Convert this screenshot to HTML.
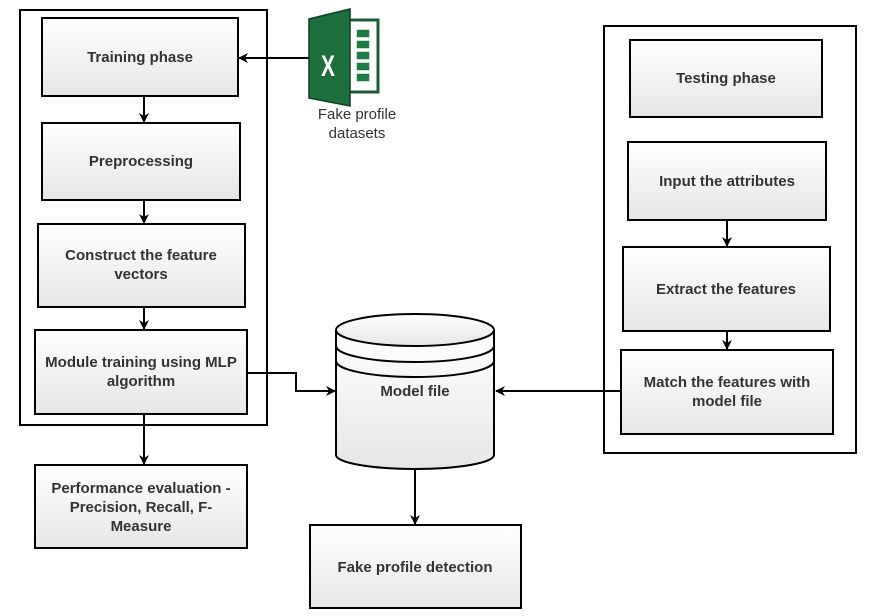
<!DOCTYPE html>
<html><head><style>body{margin:0;background:#fff}svg{display:block}text{font-family:"Liberation Sans",Arial,sans-serif}</style></head><body>
<svg width="895" height="616" viewBox="0 0 895 616" xmlns="http://www.w3.org/2000/svg">
<defs>
<linearGradient id="g" x1="0" y1="0" x2="0" y2="1"><stop offset="0" stop-color="#ffffff"/><stop offset="1" stop-color="#e6e6e6"/></linearGradient>
<marker id="a" markerWidth="10" markerHeight="10" refX="9" refY="5" orient="auto" markerUnits="userSpaceOnUse"><path d="M0,0 L10,5 L0,10 L3,5 z" fill="#000"/></marker>
</defs>
<g fill="none" stroke="#000" stroke-width="2">
<rect x="20" y="10" width="247" height="415"/>
<rect x="604" y="26" width="252" height="427"/>
</g>
<g fill="url(#g)" stroke="#000" stroke-width="2">
<rect x="42" y="18" width="196" height="78"/>
<rect x="42" y="123" width="198" height="77"/>
<rect x="38" y="224" width="207" height="83"/>
<rect x="35" y="330" width="212" height="84"/>
<rect x="35" y="465" width="212" height="83"/>
<rect x="310" y="525" width="211" height="83"/>
<rect x="630" y="40" width="192" height="77"/>
<rect x="628" y="142" width="198" height="78"/>
<rect x="623" y="247" width="207" height="84"/>
<rect x="621" y="350" width="212" height="84"/>
<path d="M336,330 L336,455 A79,14 0 0 0 494,455 L494,330"/>
<ellipse cx="415" cy="330" rx="79" ry="16"/>
<path d="M336,346 A79,16 0 0 0 494,346 M336,361 A79,16 0 0 0 494,361" fill="none"/>
</g>
<g stroke="#000" stroke-width="2" fill="none" marker-end="url(#a)">
<path d="M144,96 V122"/>
<path d="M144,200 V223"/>
<path d="M144,307 V329"/>
<path d="M144,414 V464"/>
<path d="M247,373 H296 V391 H335"/>
<path d="M621,391 H496"/>
<path d="M727,220 V246"/>
<path d="M727,331 V349"/>
<path d="M415,470 V524"/>
<path d="M310,58 H239"/>
</g>
<rect x="345" y="20" width="33" height="72" fill="#fff" stroke="#1e5c35" stroke-width="3"/>
<g fill="#1f7a43" stroke="#fff" stroke-width="1.5">
<rect x="356" y="29" width="14" height="9"/><rect x="356" y="40" width="14" height="9"/><rect x="356" y="51" width="14" height="9"/><rect x="356" y="62" width="14" height="9"/><rect x="356" y="73" width="14" height="9"/>
</g>
<path d="M309,19 L350,9 L350,106 L309,98 Z" fill="#1d6f3e" stroke="#0f3f22" stroke-width="1.5"/>
<text x="328" y="76" font-size="30" font-weight="bold" fill="#fff" text-anchor="middle" transform="translate(328,0) scale(0.7,1) translate(-328,0)">X</text>
<text x="357" y="119" font-size="15" fill="#333" text-anchor="middle">Fake profile</text>
<text x="357" y="138" font-size="15" fill="#333" text-anchor="middle">datasets</text>
<g font-size="15" font-weight="bold" fill="#333" text-anchor="middle">
<text x="140" y="62">Training phase</text>
<text x="141" y="166">Preprocessing</text>
<text x="141" y="260">Construct the feature</text>
<text x="141" y="279">vectors</text>
<text x="141" y="367">Module training using MLP</text>
<text x="141" y="386">algorithm</text>
<text x="141" y="493">Performance evaluation -</text>
<text x="141" y="512">Precision, Recall, F-</text>
<text x="141" y="531">Measure</text>
<text x="415" y="572">Fake profile detection</text>
<text x="415" y="396">Model file</text>
<text x="726" y="83">Testing phase</text>
<text x="727" y="186">Input the attributes</text>
<text x="726" y="294">Extract the features</text>
<text x="727" y="387">Match the features with</text>
<text x="727" y="406">model file</text>
</g>
</svg>
</body></html>
